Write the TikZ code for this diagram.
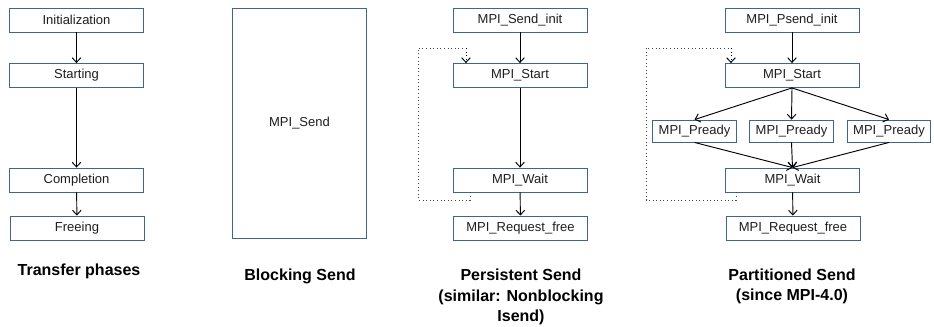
\documentclass[tikz,border=0pt]{standalone}
\usepackage{fontspec}
\setmainfont{Liberation Sans}
\usetikzlibrary{arrows.meta}
\definecolor{boxc}{RGB}{62,100,145}
\definecolor{txtc}{RGB}{30,30,30}
\begin{document}
\begin{tikzpicture}[x=0.75pt,y=-0.75pt,
  box/.style={draw=boxc,line width=0.65pt,fill=white,minimum width=100.5pt,minimum height=18pt,inner sep=0pt,font=\fontsize{9.75}{11}\selectfont,text=txtc},
  pbox/.style={box,minimum width=62.5pt,minimum height=16.5pt},
  title/.style={font=\fontsize{12}{15.5}\selectfont\bfseries,align=center,text=black},
  arr/.style={-{Straight Barb[length=3.5pt,width=6.5pt]},line width=0.7pt,black},
  loop/.style={dotted,line width=0.7pt,black!75}]
\useasboundingbox (0,0) rectangle (934,326);
% Column 1
\node[box] (init) at (76.5,20) {Initialization};
\node[box] (start1) at (76.5,75.5) {Starting};
\node[box] (comp) at (76.5,180) {Completion};
\node[box] (free1) at (77,228) {Freeing};
\draw[arr] (init) -- (start1);
\draw[arr] (start1) -- (comp);
\draw[arr] (comp) -- (free1);
\node[title] (t1) at (79,271) {Transfer phases};
% Column 2
\node[box,minimum height=172.5pt] (send) at (299.5,123) {MPI\_Send};
\node[title] (t2) at (300,276) {Blocking Send};
% Column 3
\node[box] (sinit) at (520,20) {MPI\_Send\_init};
\node[box] (start3) at (520,75.5) {MPI\_Start};
\node[box] (wait3) at (520,180) {MPI\_Wait};
\node[box] (free3) at (520.5,228) {MPI\_Request\_free};
\draw[arr] (sinit) -- (start3);
\draw[arr] (start3) -- (wait3);
\draw[arr] (wait3) -- (free3);
\coordinate (a3) at (470,200);
\coordinate (b3) at (418,200);
\coordinate (c3) at (418,48);
\coordinate (d3) at (466,48);
\draw[loop] (wait3.south -| a3) -- (a3) -- (b3) -- (c3) -- (d3);
\draw[loop,arr,dotted] (d3) -- (start3.north -| d3);
\node[title] (t3) at (521,297) {Persistent Send\\(similar: Nonblocking\\Isend)};
% Column 4
\node[box] (pinit) at (792,20) {MPI\_Psend\_init};
\node[box] (start4) at (792,75.5) {MPI\_Start};
\node[pbox] (pl) at (694.5,131) {MPI\_Pready};
\node[pbox] (pm) at (791.5,131) {MPI\_Pready};
\node[pbox] (pr) at (889,131) {MPI\_Pready};
\node[box] (wait4) at (792.5,180) {MPI\_Wait};
\node[box] (free4) at (793,228) {MPI\_Request\_free};
\draw[arr] (pinit) -- (start4);
\draw[arr] (start4.south) -- (pl.north);
\draw[arr] (start4.south) -- (pm.north);
\draw[arr] (start4.south) -- (pr.north);
\draw[arr] (pl.south) -- (wait4.north);
\draw[arr] (pm.south) -- (wait4.north);
\draw[arr] (pr.south) -- (wait4.north);
\draw[arr] (wait4) -- (free4);
\coordinate (a4) at (736,200);
\coordinate (b4) at (646,200);
\coordinate (c4) at (646,48);
\coordinate (d4) at (731,48);
\draw[loop] (wait4.south -| a4) -- (a4) -- (b4) -- (c4) -- (d4);
\draw[loop,arr,dotted] (d4) -- (start4.north -| d4);
\node[title] (t4) at (792,286.5) {Partitioned Send\\(since MPI-4.0)};
\end{tikzpicture}
\end{document}
